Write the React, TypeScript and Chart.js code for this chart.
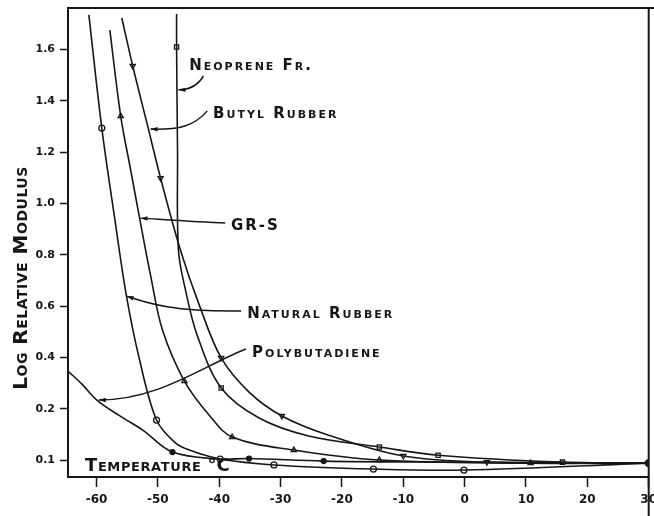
import React, { useEffect, useRef } from "react";
import { Chart, registerables } from "chart.js";

Chart.register(...registerables);

// ---------- axis ticks ----------
const xTickValues = [-60, -50, -40, -30, -20, -10, 0, 10, 20, 30];
const yTickValues = [0, 0.2, 0.4, 0.6, 0.8, 1.0, 1.2, 1.4, 1.6];
const yTickLabels = ["0.1", "0.2", "0.4", "0.6", "0.8", "1.0", "1.2", "1.4", "1.6"];

// ---------- Natural Rubber ----------
const naturalTemp = [-61.25, -59.14, -57.0, -55.09, -52.98, -50.22, -47.3, -44.87, -39.84, -31.08, -14.87, -0.11, 30];
const naturalLogMod = [1.735, 1.294, 0.936, 0.635, 0.39, 0.156, 0.07, 0.039, 0.004, -0.019, -0.035, -0.039, -0.012];
const naturalMarkTemp = [-59.14, -50.22, -39.84, -31.08, -14.87, -0.11];
const naturalMarkLogMod = [1.294, 0.156, 0.004, -0.019, -0.035, -0.039];

// ---------- GR-S ----------
const grsTemp = [-57.83, -56.06, -54.44, -52.98, -51.2, -49.25, -45.68, -41.63, -37.9, -27.84, -13.9, 10.75, 30];
const grsLogMod = [1.676, 1.341, 1.131, 0.943, 0.721, 0.507, 0.308, 0.175, 0.09, 0.039, 0.0, -0.012, -0.012];
const grsMarkTemp = [-56.06, -45.68, -37.9, -27.84, -13.9, 10.75];
const grsMarkLogMod = [1.341, 0.308, 0.09, 0.039, 0.0, -0.012];

// ---------- Butyl Rubber ----------
const butylTemp = [-55.88, -54.1, -51.83, -49.56, -46.33, -43.25, -39.68, -35.14, -29.79, -22.17, -10.0, 3.63, 30];
const butylLogMod = [1.723, 1.536, 1.318, 1.099, 0.819, 0.604, 0.398, 0.265, 0.172, 0.097, 0.016, -0.008, -0.012];
const butylMarkTemp = [-54.1, -49.56, -39.68, -29.79, -10.0, 3.63];
const butylMarkLogMod = [1.536, 1.099, 0.398, 0.172, 0.016, -0.008];

// ---------- Neoprene FR ----------
const neopreneTemp = [-46.95, -46.95, -46.8, -46.65, -45.5, -43.6, -39.68, -33.5, -25.42, -13.9, -4.33, 15.94, 30];
const neopreneLogMod = [1.739, 1.61, 1.209, 0.819, 0.663, 0.487, 0.281, 0.164, 0.094, 0.051, 0.019, -0.008, -0.012];
const neopreneMarkTemp = [-46.95, -39.68, -13.9, -4.33, 15.94];
const neopreneMarkLogMod = [1.61, 0.281, 0.051, 0.019, -0.008];

// ---------- Polybutadiene ----------
const polyTemp = [-64.65, -62.38, -59.95, -56.2, -52.47, -47.63, -40.0, -35.14, -22.98, -4.33, 30];
const polyLogMod = [0.347, 0.296, 0.234, 0.172, 0.117, 0.031, 0.004, 0.006, -0.004, -0.008, -0.012];
const polyMarkTemp = [-47.63, -35.14, -22.98];
const polyMarkLogMod = [0.031, 0.006, -0.004];

// common end point
const endTemp = [30];
const endLogMod = [-0.012];

// ---------- curve labels (baseline-left anchor) ----------
const labelText = ["Neoprene Fr.", "Butyl Rubber", "GR-S", "Natural Rubber", "Polybutadiene"];
const labelTemp = [-44.9, -41.0, -38.1, -35.45, -34.65];
const labelLogMod = [1.52, 1.333, 0.897, 0.554, 0.402];

// leader curves: start, control1, control2, end
const leaderTemp = [
  [-42.57, -43.55, -44.87, -46.65],
  [-41.95, -44.06, -46.49, -51.19],
  [-39.03, -43.25, -48.11, -52.82],
  [-36.44, -48.11, -52.17, -55.09],
  [-35.63, -42.44, -49.74, -59.63],
];
const leaderLogMod = [
  [1.497, 1.458, 1.443, 1.443],
  [1.361, 1.302, 1.287, 1.29],
  [0.924, 0.928, 0.936, 0.943],
  [0.581, 0.577, 0.616, 0.639],
  [0.433, 0.37, 0.234, 0.234],
];

const yTitle = "Log Relative Modulus";
const xTitleWord = "Temperature";
const xTitleUnit = "°C";

const ink = "#161616";
const FONT = '"DejaVu Sans"';

const zip = (xs: number[], ys: number[]) => xs.map((x, i) => ({ x, y: ys[i] }));

function drawCaps(ctx: CanvasRenderingContext2D, text: string, x: number, y: number, size: number, spacing: number) {
  ctx.font = `small-caps bold ${size}px ${FONT}`;
  (ctx as any).letterSpacing = `${spacing}px`;
  ctx.fillText(text, x, y);
  return ctx.measureText(text).width;
}

const overlay = {
  id: "overlay",
  afterDraw(chart: any) {
    const { ctx, chartArea } = chart;
    const xs = chart.scales.x;
    const ys = chart.scales.y;
    ctx.save();
    ctx.strokeStyle = ink;
    ctx.fillStyle = ink;
    // frame: top and right
    ctx.lineWidth = 2;
    ctx.beginPath();
    ctx.moveTo(chartArea.left - 1, chartArea.top);
    ctx.lineTo(chart.width, chartArea.top);
    ctx.stroke();
    ctx.beginPath();
    ctx.moveTo(chartArea.right, chartArea.top);
    ctx.lineTo(chartArea.right, chart.height);
    ctx.stroke();

    // leaders
    ctx.lineWidth = 1.5;
    for (let i = 0; i < leaderTemp.length; i++) {
      const p = leaderTemp[i].map((t, k) => [xs.getPixelForValue(t), ys.getPixelForValue(leaderLogMod[i][k])]);
      ctx.beginPath();
      ctx.moveTo(p[0][0], p[0][1]);
      ctx.bezierCurveTo(p[1][0], p[1][1], p[2][0], p[2][1], p[3][0], p[3][1]);
      ctx.stroke();
      const ang = Math.atan2(p[3][1] - p[2][1], p[3][0] - p[2][0]);
      const L = 7, W = 2.2;
      ctx.beginPath();
      ctx.moveTo(p[3][0], p[3][1]);
      ctx.lineTo(p[3][0] - L * Math.cos(ang) - W * Math.sin(ang), p[3][1] - L * Math.sin(ang) + W * Math.cos(ang));
      ctx.lineTo(p[3][0] - L * Math.cos(ang) + W * Math.sin(ang), p[3][1] - L * Math.sin(ang) - W * Math.cos(ang));
      ctx.closePath();
      ctx.fill();
    }

    // labels
    ctx.textAlign = "left";
    ctx.textBaseline = "alphabetic";
    for (let i = 0; i < labelText.length; i++) {
      drawCaps(ctx, labelText[i], xs.getPixelForValue(labelTemp[i]), ys.getPixelForValue(labelLogMod[i]), 15, 2);
    }

    // x title inside plot
    const tx = chartArea.left + 17;
    const ty = chartArea.bottom - 6;
    const w = drawCaps(ctx, xTitleWord, tx, ty, 18, 0.6);
    ctx.font = `bold 18px ${FONT}`;
    (ctx as any).letterSpacing = "0px";
    ctx.fillText(xTitleUnit, tx + w + 6, ty);

    // y title rotated
    ctx.save();
    ctx.translate(27, 278);
    ctx.rotate(-Math.PI / 2);
    ctx.textAlign = "center";
    drawCaps(ctx, yTitle, 0, 0, 20, 0.5);
    ctx.restore();

    ctx.restore();
  },
};

export default function App() {
  const ref = useRef<HTMLCanvasElement | null>(null);

  useEffect(() => {
    if (!ref.current) return;
    const lineDs = (xs: number[], ys: number[]) => ({
      type: "scatter" as const,
      data: zip(xs, ys),
      showLine: true,
      borderColor: ink,
      borderWidth: 1.6,
      pointRadius: 0,
      tension: 0.35,
      fill: false,
    });
    const markDs = (xs: number[], ys: number[], style: string, rot = 0, filled = false, r = 3) => ({
      type: "scatter" as const,
      data: zip(xs, ys),
      showLine: false,
      pointStyle: style,
      rotation: rot,
      pointRadius: r,
      borderColor: ink,
      borderWidth: 1.3,
      backgroundColor: filled ? ink : "#ffffff",
    });

    const chart = new Chart(ref.current, {
      type: "scatter",
      data: {
        datasets: [
          lineDs(naturalTemp, naturalLogMod),
          lineDs(grsTemp, grsLogMod),
          lineDs(butylTemp, butylLogMod),
          lineDs(neopreneTemp, neopreneLogMod),
          lineDs(polyTemp, polyLogMod),
          markDs(naturalMarkTemp, naturalMarkLogMod, "circle"),
          markDs(grsMarkTemp, grsMarkLogMod, "triangle"),
          markDs(butylMarkTemp, butylMarkLogMod, "triangle", 180),
          markDs(neopreneMarkTemp, neopreneMarkLogMod, "rect"),
          markDs(polyMarkTemp, polyMarkLogMod, "circle", 0, true, 2.5),
          markDs(endTemp, endLogMod, "circle", 0, true, 3.5),
        ] as any,
      },
      options: {
        animation: false,
        responsive: false,
        layout: { padding: { left: 0, right: 2, top: 8, bottom: 0 } },
        plugins: { legend: { display: false }, tooltip: { enabled: false } },
        scales: {
          x: {
            type: "linear",
            min: -64.65,
            max: 30,
            afterFit: (s: any) => { s.height = 39; s.paddingLeft = 0; s.paddingRight = 0; },
            afterBuildTicks: (s: any) => { s.ticks = xTickValues.map((v) => ({ value: v })); },
            border: { color: ink, width: 2 },
            grid: { drawOnChartArea: false, drawTicks: true, tickLength: 10, tickColor: ink, tickWidth: 1.5 },
            ticks: {
              color: ink,
              padding: 6,
              maxRotation: 0,
              font: { family: FONT, size: 12, weight: "bold" },
              callback: (v: any) => String(v),
            },
          },
          y: {
            type: "linear",
            min: -0.066,
            max: 1.762,
            afterFit: (s: any) => { s.width = 68; s.paddingTop = 0; s.paddingBottom = 0; },
            afterBuildTicks: (s: any) => { s.ticks = yTickValues.map((v) => ({ value: v })); },
            border: { color: ink, width: 2 },
            grid: { drawOnChartArea: false, drawTicks: true, tickLength: 8, tickColor: ink, tickWidth: 1.5 },
            ticks: {
              color: ink,
              padding: 5,
              font: { family: FONT, size: 11, weight: "bold" },
              callback: (_v: any, i: number) => yTickLabels[i],
            },
          },
        },
      } as any,
      plugins: [overlay],
    });
    return () => chart.destroy();
  }, []);

  return (
    <div style={{ position: "absolute", left: 0, top: 0, width: 654, height: 516, background: "#fff" }}>
      <canvas ref={ref} width={654} height={516} style={{ display: "block" }} />
    </div>
  );
}
